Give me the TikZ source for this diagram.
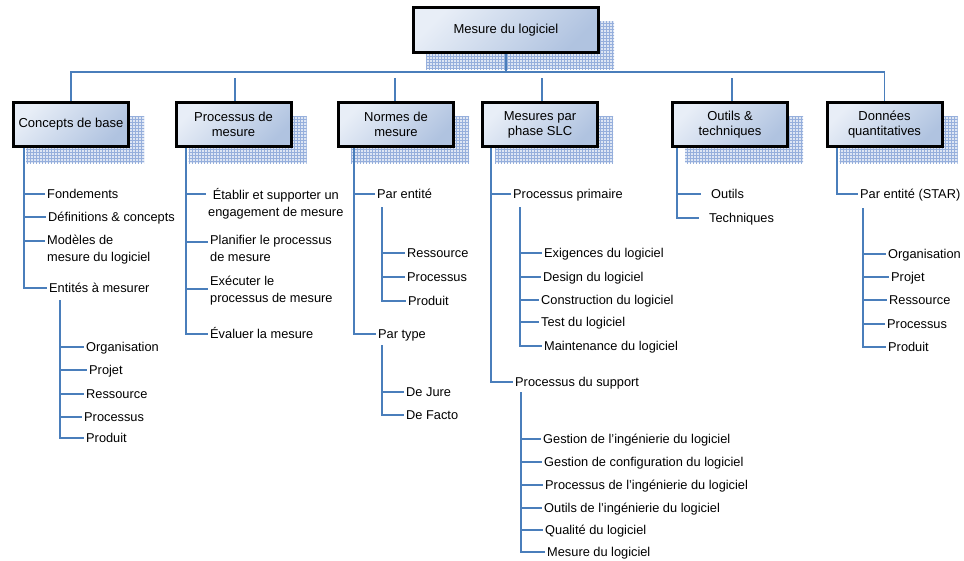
\documentclass[tikz,border=0pt]{standalone}
\usepackage{fontspec}
\setmainfont{Liberation Sans}
\usetikzlibrary{patterns}
\pgfdeclarelayer{background}
\pgfsetlayers{background,main}
\definecolor{linkblue}{RGB}{74,126,187}
\definecolor{boxtop}{RGB}{232,238,247}
\definecolor{boxbot}{RGB}{176,195,224}
\definecolor{shadowfill}{RGB}{222,230,244}
\definecolor{shadowgrid}{RGB}{150,175,220}
\begin{document}
\begin{tikzpicture}[x=1pt,y=-1pt,
  link/.style={draw=linkblue,line width=1.6pt},
  box/.style={draw=black,line width=3pt,minimum width=115pt,minimum height=44pt,
    inner sep=0pt,align=center,font=\fontsize{13}{15}\selectfont,
    top color=boxtop,bottom color=boxbot,shading angle=45},
  item/.style={anchor=west,inner sep=2pt,font=\fontsize{12.8}{15}\selectfont,
    text height=9.2pt,text depth=0pt},
  itemtwo/.style={anchor=west,inner sep=2pt,font=\fontsize{12.8}{17}\selectfont,align=left},
  shadowbox/.style={fill=shadowfill},
  shadowmesh/.style={pattern=grid,pattern color=shadowgrid}
]
\useasboundingbox (0,0) rectangle (964,560);

% boxes
\node[box,minimum width=185pt,minimum height=45pt] (T) at (506,30) {Mesure du logiciel};
\node[box] (B1) at (71,124.5) {Concepts de base};
\node[box] (B2) at (233.5,124.5) {Processus de\\mesure};
\node[box] (B3) at (396,124.5) {Normes de\\mesure};
\node[box] (B4) at (540,124.5) {Mesures par\\phase SLC};
\node[box] (B5) at (730,124.5) {Outils \&\\techniques};
\node[box] (B6) at (884.5,124.5) {Données\\quantitatives};

\begin{pgfonlayer}{background}
\foreach \n in {T,B1,B2,B3,B4,B5,B6}{
  \fill[shadowbox] ([shift={(14,15)}]\n.south west) rectangle ([shift={(14,15)}]\n.north east);
  \fill[shadowmesh] ([shift={(14,15)}]\n.south west) rectangle ([shift={(14,15)}]\n.north east);
}
\end{pgfonlayer}

% top connectors
\coordinate (bus) at (506,72);
\draw[link] (T.south) -- (bus);
\draw[link] (B1.north) |- (bus) -| (B6.north);
\coordinate (t2) at (235,78);
\coordinate (t3) at (395,78);
\coordinate (t4) at (542,78);
\coordinate (t5) at (732,78);
\foreach \t/\b in {t2/B2,t3/B3,t4/B4,t5/B5}{
  \draw[link] (\t) -- (\t |- \b.north);
}

% column 1: Concepts de base
\coordinate (v1) at (24,148);
\node[item] (fond) at (45,194) {Fondements};
\node[item] (defs) at (46,217) {Définitions \& concepts};
\node[itemtwo] (mod) at (45,249.5) {Modèles de\\mesure du logiciel};
\node[item] (ent) at (47,288) {Entités à mesurer};
\draw[link] (v1) |- (fond.west);
\draw[link] (v1) |- (defs.west);
\draw[link] (v1) |- ([yshift=8.5pt]mod.west);
\draw[link] (v1) |- (ent.west);
\coordinate (s1) at (60,300);
\node[item] (org1) at (84,347) {Organisation};
\node[item] (proj1) at (87,370) {Projet};
\node[item] (res1) at (84,394) {Ressource};
\node[item] (proc1) at (82,417) {Processus};
\node[item] (prod1) at (84,438) {Produit};
\foreach \n in {org1,proj1,res1,proc1,prod1}{\draw[link] (s1) |- (\n.west);}

% column 2: Processus de mesure
\coordinate (v2) at (186,148);
\node[itemtwo,align=center] (etab) at (206,203.5) {Établir et supporter un\\engagement de mesure};
\node[itemtwo] (plan) at (208,248.5) {Planifier le processus\\de mesure};
\node[itemtwo] (exec) at (208,291) {Exécuter le\\processus de mesure};
\node[item] (eval) at (208,334) {Évaluer la mesure};
\draw[link] (v2) |- ([yshift=9.5pt]etab.west);
\draw[link] (v2) |- ([yshift=6.5pt]plan.west);
\draw[link] (v2) |- ([yshift=2pt]exec.west);
\draw[link] (v2) |- (eval.west);

% column 3: Normes de mesure
\coordinate (v3) at (354,148);
\node[item] (pe3) at (375,194) {Par entité};
\node[item] (pt3) at (376,334) {Par type};
\draw[link] (v3) |- (pe3.west);
\draw[link] (v3) |- (pt3.west);
\coordinate (s3a) at (382,207);
\node[item] (res3) at (405,253) {Ressource};
\node[item] (proc3) at (405,277) {Processus};
\node[item] (prod3) at (406,301) {Produit};
\foreach \n in {res3,proc3,prod3}{\draw[link] (s3a) |- (\n.west);}
\coordinate (s3b) at (382,345);
\node[item] (jure) at (404,392) {De Jure};
\node[item] (facto) at (404,415) {De Facto};
\foreach \n in {jure,facto}{\draw[link] (s3b) |- (\n.west);}

% column 4: Mesures par phase SLC
\coordinate (v4) at (491,148);
\node[item] (pp4) at (511,194) {Processus primaire};
\node[item] (ps4) at (513,382) {Processus du support};
\draw[link] (v4) |- (pp4.west);
\draw[link] (v4) |- (ps4.west);
\coordinate (s4a) at (520,207);
\node[item] (exi) at (542,253) {Exigences du logiciel};
\node[item] (des) at (541,277) {Design du logiciel};
\node[item] (con) at (539,300) {Construction du logiciel};
\node[item] (tst) at (539,322) {Test du logiciel};
\node[item] (mai) at (542,346) {Maintenance du logiciel};
\foreach \n in {exi,des,con,tst,mai}{\draw[link] (s4a) |- (\n.west);}
\coordinate (s4b) at (521,392);
\node[item] (gi) at (541,439) {Gestion de l’ingénierie du logiciel};
\node[item] (gc) at (542,462) {Gestion de configuration du logiciel};
\node[item] (pi) at (543,485) {Processus de l’ingénierie du logiciel};
\node[item] (oi) at (542,508) {Outils de l’ingénierie du logiciel};
\node[item] (ql) at (543,530) {Qualité du logiciel};
\node[item] (ml) at (545,552) {Mesure du logiciel};
\foreach \n in {gi,gc,pi,oi,ql,ml}{\draw[link] (s4b) |- (\n.west);}

% column 5: Outils & techniques
\coordinate (v5) at (677,148);
\node[item] (out5) at (709,194) {Outils};
\node[item] (tec5) at (707,218) {Techniques};
\draw[link] (v5) |- ([xshift=-8pt]out5.west);
\draw[link] (v5) |- ([xshift=-8pt]tec5.west);

% column 6: Données quantitatives
\coordinate (v6) at (837,148);
\node[item] (pe6) at (858,194) {Par entité (STAR)};
\draw[link] (v6) |- (pe6.west);
\coordinate (s6) at (863,208);
\node[item] (org6) at (886,254) {Organisation};
\node[item] (proj6) at (889,277) {Projet};
\node[item] (res6) at (887,300) {Ressource};
\node[item] (proc6) at (885,324) {Processus};
\node[item] (prod6) at (886,347) {Produit};
\foreach \n in {org6,proj6,res6,proc6,prod6}{\draw[link] (s6) |- (\n.west);}
\end{tikzpicture}
\end{document}
